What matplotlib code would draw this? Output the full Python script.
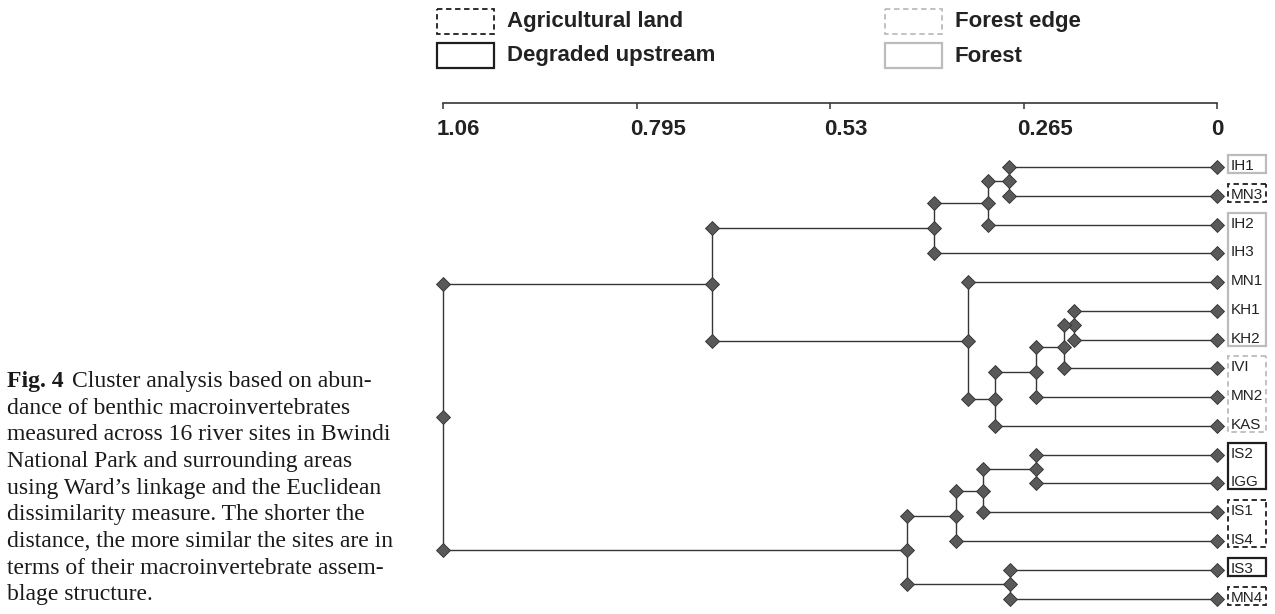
import matplotlib.pyplot as plt
from matplotlib.patches import Rectangle
from matplotlib.transforms import ScaledTranslation

# sites in dendrogram order (top to bottom) and their land use
leaves = ["IH1", "MN3", "IH2", "IH3", "MN1", "KH1", "KH2", "IVI",
          "MN2", "KAS", "IS2", "IGG", "IS1", "IS4", "IS3", "MN4"]
land_use = ["Forest", "Agricultural land", "Forest", "Forest", "Forest",
            "Forest", "Forest", "Forest edge", "Forest edge", "Forest edge",
            "Degraded upstream", "Degraded upstream", "Agricultural land",
            "Agricultural land", "Degraded upstream", "Agricultural land"]

# Ward merges: child a, child b, linkage distance (c<n> = n-th merge)
merge_a = ["IH1", "c1", "c2", "KH1", "c4", "c5", "c6", "MN1", "c3",
           "IS2", "c10", "c11", "IS3", "c12", "c9"]
merge_b = ["MN3", "IH2", "IH3", "KH2", "IVI", "MN2", "KAS", "c7", "c8",
           "IGG", "IS1", "IS4", "MN4", "c13", "c14"]
merge_h = [0.285, 0.313, 0.387, 0.196, 0.209, 0.248, 0.304, 0.341, 0.692,
           0.248, 0.321, 0.358, 0.283, 0.425, 1.06]

scale_ticks = [1.06, 0.795, 0.53, 0.265, 0]
scale_labels = ["1.06", "0.795", "0.53", "0.265", "0"]

legend_order = ["Agricultural land", "Degraded upstream", "Forest edge", "Forest"]

caption = [
    "Cluster analysis based on abun-",
    "dance of benthic macroinvertebrates",
    "measured across 16 river sites in Bwindi",
    "National Park and surrounding areas",
    "using Ward\u2019s linkage and the Euclidean",
    "dissimilarity measure. The shorter the",
    "distance, the more similar the sites are in",
    "terms of their macroinvertebrate assem-",
    "blage structure.",
]

box_style = {
    "Agricultural land": dict(edgecolor="#1e1e1e", linestyle=(0, (3, 2)), linewidth=1.3),
    "Degraded upstream": dict(edgecolor="#1e1e1e", linestyle="-", linewidth=1.6),
    "Forest edge": dict(edgecolor="#bcbcbc", linestyle=(0, (3, 2)), linewidth=1.3),
    "Forest": dict(edgecolor="#bcbcbc", linestyle="-", linewidth=1.6),
}

W, H = 1275, 614
fig = plt.figure(figsize=(W / 100, H / 100), dpi=100)

# pixel-space overlay for legend and caption
bg = fig.add_axes([0, 0, 1, 1])
bg.set_xlim(0, W)
bg.set_ylim(H, 0)
bg.axis("off")

# dendrogram axes: x = distance (reversed), y = leaf index
x0, x1 = 443, 1217
y_first, step = 167, 28.77
ax = fig.add_axes([x0 / W, 0, (x1 - x0) / W, 1])
ax.set_xlim(1.06, 0)
ax.set_ylim((H - y_first) / step, -y_first / step)
ax.axis("off")

line_kw = dict(color="#363636", lw=1.0, solid_capstyle="butt", clip_on=False, zorder=2)
dia_kw = dict(marker="D", ms=7, mfc="#595959", mec="#2f2f2f", mew=0.6,
              ls="none", clip_on=False, zorder=3)

ypos = {name: i for i, name in enumerate(leaves)}
xpos = {name: 0.0 for name in leaves}
for k, (a, b, h) in enumerate(zip(merge_a, merge_b, merge_h)):
    ya, yb = ypos[a], ypos[b]
    ym = (ya + yb) / 2
    ax.plot([xpos[a], h], [ya, ya], **line_kw)
    ax.plot([xpos[b], h], [yb, yb], **line_kw)
    ax.plot([h, h], [ya, yb], **line_kw)
    ax.plot([h, h, h], [ya, ym, yb], **dia_kw)
    ypos[f"c{k + 1}"] = ym
    xpos[f"c{k + 1}"] = h

ax.plot([0] * len(leaves), range(len(leaves)), **dia_kw)

# site labels, boxed by runs of the same land use
px = (x1 - x0) / 1.06
for i, name in enumerate(leaves):
    ax.text(-14 / px, i - 1 / step, name, ha="left", va="center", fontsize=11,
            family="Liberation Sans", color="#222222", clip_on=False)

start = 0
for i in range(1, len(leaves) + 1):
    if i == len(leaves) or land_use[i] != land_use[start]:
        top = start - 12 / step
        bottom = (i - 1) + 6 / step
        ax.add_patch(Rectangle((-49 / px, top), 38 / px, bottom - top,
                               facecolor="none", clip_on=False,
                               **box_style[land_use[start]]))
        start = i

# distance scale above the tree
sc = fig.add_axes([x0 / W, 1 - 102.7 / H, (x1 - x0) / W, 0.01], sharex=ax)
for s in ["top", "left", "right"]:
    sc.spines[s].set_visible(False)
sc.spines["bottom"].set_color("#363636")
sc.spines["bottom"].set_linewidth(1.2)
sc.set_yticks([])
sc.set_xticks(scale_ticks)
sc.set_xticklabels(scale_labels, fontsize=16, fontweight="bold",
                   family="Liberation Sans", color="#222222")
sc.tick_params(axis="x", direction="out", length=4.2, width=1.1,
               color="#363636", pad=7.5)
sc.patch.set_visible(False)
# labels start just left of their tick
shift = ScaledTranslation(-6 / 100, 0, fig.dpi_scale_trans)
for lab in sc.get_xticklabels():
    lab.set_horizontalalignment("left")
    lab.set_transform(lab.get_transform() + shift)

# legend
legend_xy = [(437, 9), (437, 42.5), (885, 9), (885, 43)]
for label, (lx, ly) in zip(legend_order, legend_xy):
    bg.add_patch(Rectangle((lx, ly), 57, 25, facecolor="none",
                           **box_style[label]))
    bg.text(lx + 70, ly + 13, label, ha="left", va="center", fontsize=16,
            fontweight="bold", family="Liberation Sans", color="#222222")

# figure caption
bg.text(7, 387, "Fig. 4", ha="left", va="baseline", fontsize=17,
        fontweight="bold", family="Liberation Serif", color="#1a1a1a")
for i, line in enumerate(caption):
    bg.text(72 if i == 0 else 7, 387 + 26.67 * i, line, ha="left",
            va="baseline", fontsize=17, family="Liberation Serif", color="#1a1a1a")

fig.savefig("out.png", dpi=100)
